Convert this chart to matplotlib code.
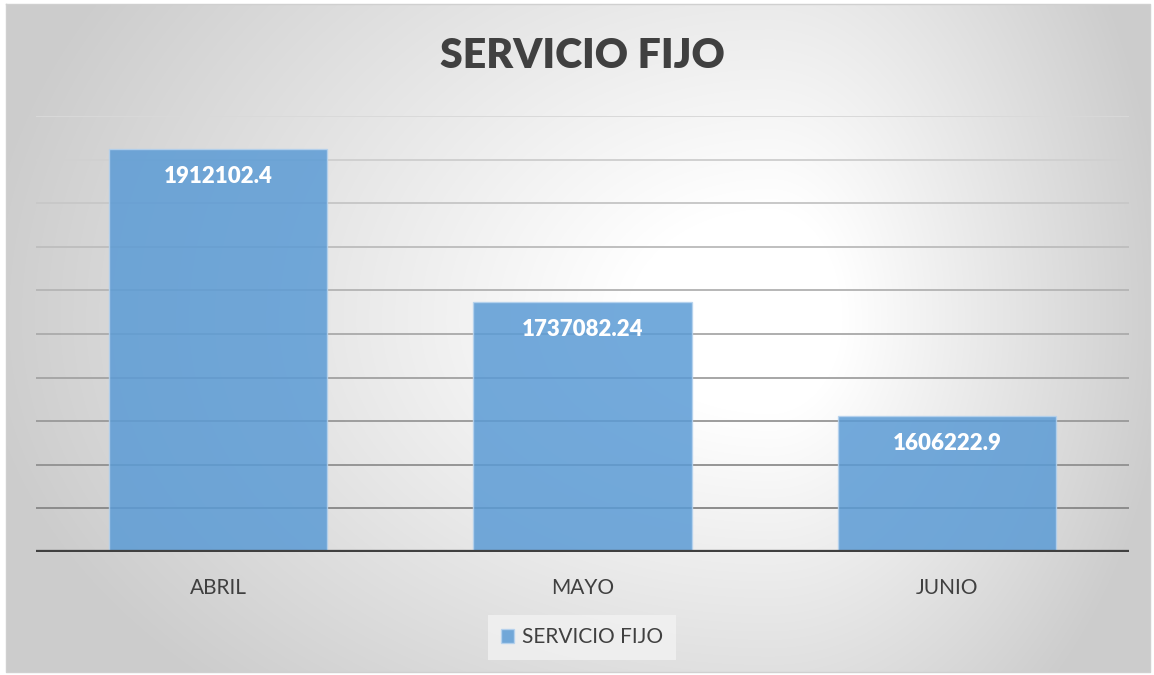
import numpy as np
import matplotlib.pyplot as plt

months = ['ABRIL', 'MAYO', 'JUNIO']
servicio_fijo = [1912102.4, 1737082.24, 1606222.9]
labels = ['1912102.4', '1737082.24', '1606222.9']
y_min, y_max, y_step = 1450000, 1950000, 50000

plt.rcParams['font.family'] = ['Lato', 'DejaVu Sans']

W, H = 1154, 675
fig = plt.figure(figsize=(W / 100, H / 100), dpi=100)
fig.patch.set_facecolor('white')

# background: excel-ish radial gradient panel
bg = fig.add_axes([0, 0, 1, 1], zorder=-5)
bg.set_xlim(0, W)
bg.set_ylim(H, 0)
bg.axis('off')
xx, yy = np.meshgrid(np.arange(6, 1151), np.arange(4, 673))
cx, cy = 770, 320
dx = xx - cx
dy = yy - cy
sx = np.where(dx > 0, 400, 800)
sy = np.where(dy > 0, 520, 620)
t = np.sqrt((dx / sx) ** 2 + (dy / sy) ** 2)
t = np.clip((t - 0.18) / 0.82, 0, 1)
shade = 1 - 0.20 * t
img = np.dstack([shade, shade, shade])
bg.imshow(img, extent=(6, 1151, 673, 4), aspect='auto', interpolation='bilinear')
bg.plot([6, 6, 1150, 1150, 6], [4, 672, 672, 4, 4], color='#d0d0d0', lw=1)

ax = fig.add_axes([36 / W, 1 - 552 / H, (1129 - 36) / W, (552 - 116) / H])
ax.set_facecolor('none')
x = np.arange(len(months))
ax.bar(x, servicio_fijo, width=0.6, color='#5b9bd5', alpha=0.85,
       edgecolor='#b5d2ee', linewidth=1, zorder=3, label='SERVICIO FIJO')
ax.set_xlim(-0.5, 2.5)
ax.set_ylim(y_min, y_max)

ticks = np.arange(y_min + y_step, y_max + 1, y_step)
grid_cols = np.linspace(0.85, 0.55, len(ticks))[::-1]
for yv, c in zip(ticks, grid_cols):
    ax.axhline(yv, color=str(c), lw=1.4, zorder=2)
ax.axhline(y_min, color='#404040', lw=3.8, zorder=5)

for xi, v, lab in zip(x, servicio_fijo, labels):
    ax.annotate(lab, (xi, v), xytext=(0, -20), textcoords='offset points',
                ha='center', va='center', color='white', fontsize=16,
                fontweight='heavy', zorder=6)

for s in ax.spines.values():
    s.set_visible(False)
ax.set_yticks([])
ax.set_xticks(x)
ax.set_xticklabels(months, fontsize=15, color='#404040')
ax.tick_params(axis='x', length=0, pad=19)

fig.text(582 / W, 1 - 56 / H, 'SERVICIO FIJO', ha='center', va='center',
         fontsize=29.5, fontweight='heavy', color='#404040')

leg = ax.legend(loc='center', bbox_to_anchor=(582 / W, 1 - 637 / H),
                bbox_transform=fig.transFigure, frameon=True, fontsize=15,
                handlelength=0.65, handleheight=0.65, handletextpad=0.4,
                borderpad=0.6, fancybox=False)
leg.get_frame().set_facecolor('#f2f2f2')
leg.get_frame().set_edgecolor('none')
leg.get_frame().set_alpha(0.8)
for txt in leg.get_texts():
    txt.set_color('#404040')

fig.savefig('out.png', dpi=100)
